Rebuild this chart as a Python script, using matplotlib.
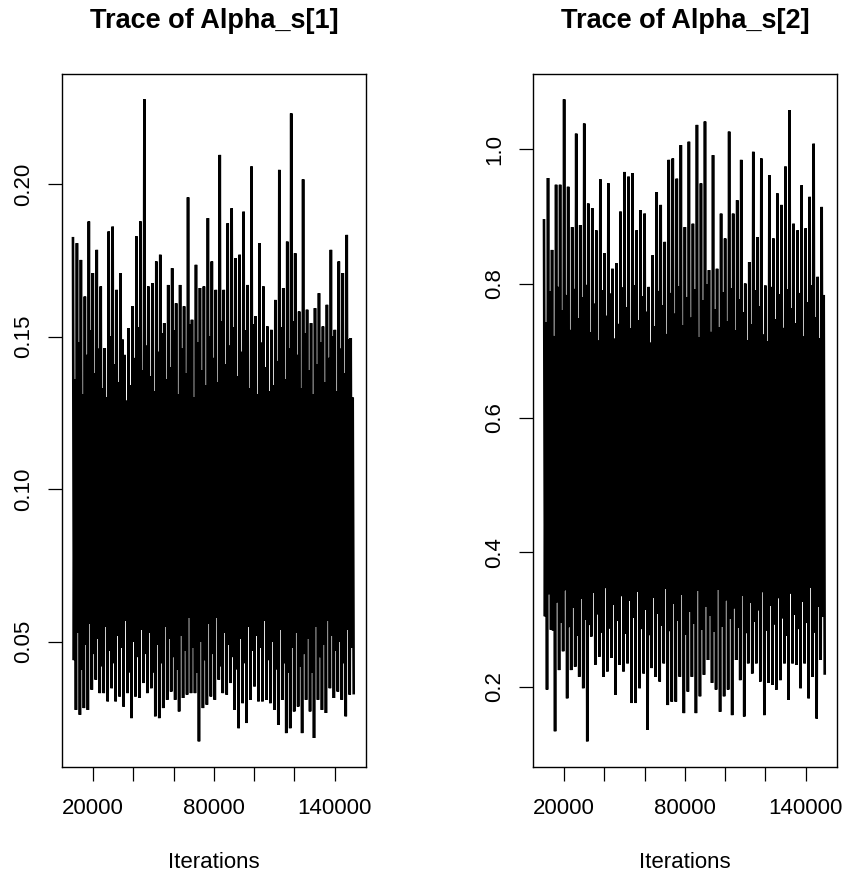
import numpy as np
import matplotlib
matplotlib.use("Agg")
import matplotlib.pyplot as plt

plt.rcParams['font.family'] = ['Liberation Sans', 'DejaVu Sans']

# MCMC run: iterations 10001..150000. Each chain is summarised block by block
# (about 2000 iterations per block): the extreme high and
# low of the trace and the edges of the dense band it fills.
iter_start = 10001
iter_end = 150000

alpha1_hi = [0.1822, 0.1806, 0.1751, 0.1631, 0.1877, 0.1708, 0.1784, 0.1664, 0.1462, 0.1844,
             0.1860, 0.1653, 0.1708, 0.1440, 0.1528, 0.1599, 0.1828, 0.1877, 0.2277, 0.1664,
             0.1675, 0.1746, 0.1768, 0.1544, 0.1669, 0.1724, 0.1609, 0.1669, 0.1599, 0.1956,
             0.1555, 0.1735, 0.1659, 0.1664, 0.1888, 0.1746, 0.1653, 0.2095, 0.1653, 0.1871,
             0.1920, 0.1757, 0.1768, 0.1909, 0.1669, 0.2057, 0.1566, 0.1806, 0.1664, 0.1533,
             0.1522, 0.1620, 0.2046, 0.1659, 0.1811, 0.2231, 0.1773, 0.1582, 0.2015, 0.1588,
             0.1544, 0.1593, 0.1642, 0.1533, 0.1604, 0.1784, 0.1522, 0.1746, 0.1708, 0.1833,
             0.1495]
alpha1_band_hi = [0.136, 0.148, 0.131, 0.144, 0.152, 0.138, 0.146, 0.133, 0.130, 0.150,
                  0.141, 0.135, 0.149, 0.129, 0.134, 0.143, 0.153, 0.139, 0.147, 0.137,
                  0.132, 0.145, 0.151, 0.136, 0.140, 0.152, 0.131, 0.146, 0.138, 0.154,
                  0.130, 0.148, 0.139, 0.134, 0.150, 0.143, 0.135, 0.155, 0.141, 0.147,
                  0.153, 0.137, 0.145, 0.152, 0.133, 0.154, 0.131, 0.148, 0.140, 0.132,
                  0.134, 0.142, 0.153, 0.136, 0.146, 0.155, 0.144, 0.133, 0.151, 0.139,
                  0.131, 0.141, 0.148, 0.135, 0.143, 0.150, 0.132, 0.146, 0.138, 0.149,
                  0.130]
alpha1_band_lo = [0.044, 0.053, 0.041, 0.049, 0.056, 0.046, 0.051, 0.042, 0.055, 0.047,
                  0.043, 0.052, 0.048, 0.057, 0.040, 0.050, 0.045, 0.054, 0.046, 0.053,
                  0.040, 0.049, 0.043, 0.055, 0.051, 0.045, 0.041, 0.052, 0.047, 0.058,
                  0.048, 0.040, 0.050, 0.044, 0.056, 0.046, 0.058, 0.042, 0.053, 0.049,
                  0.045, 0.041, 0.051, 0.043, 0.055, 0.047, 0.052, 0.048, 0.057, 0.044,
                  0.050, 0.041, 0.054, 0.043, 0.040, 0.048, 0.053, 0.042, 0.046, 0.051,
                  0.040, 0.055, 0.045, 0.049, 0.057, 0.052, 0.047, 0.050, 0.043, 0.054,
                  0.048]
alpha1_lo = [0.0277, 0.0261, 0.0283, 0.0277, 0.0343, 0.0376, 0.0332, 0.0332, 0.0305, 0.0348,
             0.0305, 0.0321, 0.0288, 0.0332, 0.0250, 0.0321, 0.0316, 0.0365, 0.0332, 0.0348,
             0.0256, 0.0250, 0.0283, 0.0310, 0.0337, 0.0310, 0.0272, 0.0316, 0.0327, 0.0332,
             0.0332, 0.0174, 0.0283, 0.0294, 0.0321, 0.0310, 0.0376, 0.0332, 0.0327, 0.0365,
             0.0277, 0.0217, 0.0299, 0.0234, 0.0310, 0.0354, 0.0305, 0.0305, 0.0310, 0.0299,
             0.0277, 0.0228, 0.0310, 0.0201, 0.0217, 0.0272, 0.0288, 0.0201, 0.0310, 0.0272,
             0.0185, 0.0310, 0.0277, 0.0267, 0.0348, 0.0316, 0.0337, 0.0310, 0.0256, 0.0327,
             0.0332]

alpha2_hi = [0.894, 0.957, 0.850, 0.947, 0.947, 1.074, 0.944, 0.884, 1.023, 0.887,
             1.038, 0.919, 0.912, 0.879, 0.955, 0.845, 0.949, 0.822, 0.830, 0.907,
             0.966, 0.959, 0.964, 0.879, 0.909, 0.904, 0.795, 0.842, 0.936, 0.917,
             0.862, 0.984, 0.986, 0.956, 1.006, 0.884, 1.011, 0.889, 1.036, 0.949,
             1.041, 0.820, 0.991, 0.822, 0.904, 0.867, 1.026, 0.904, 0.924, 0.984,
             0.800, 0.832, 0.996, 0.869, 0.986, 0.797, 0.961, 0.867, 0.934, 0.917,
             0.974, 1.058, 0.889, 0.879, 0.946, 0.882, 0.929, 1.008, 0.810, 0.914]
alpha2_band_hi = [0.742, 0.788, 0.722, 0.795, 0.760, 0.783, 0.731, 0.792, 0.748, 0.779,
                  0.798, 0.727, 0.770, 0.715, 0.790, 0.752, 0.785, 0.718, 0.740, 0.794,
                  0.765, 0.733, 0.797, 0.745, 0.781, 0.758, 0.712, 0.736, 0.789, 0.768,
                  0.725, 0.786, 0.755, 0.796, 0.738, 0.780, 0.749, 0.791, 0.720, 0.775,
                  0.799, 0.728, 0.762, 0.735, 0.787, 0.744, 0.793, 0.730, 0.777, 0.757,
                  0.716, 0.739, 0.790, 0.766, 0.724, 0.714, 0.795, 0.747, 0.784, 0.734,
                  0.791, 0.763, 0.741, 0.786, 0.721, 0.772, 0.797, 0.750, 0.719, 0.783]
alpha2_band_lo = [0.305, 0.338, 0.284, 0.326, 0.296, 0.344, 0.289, 0.318, 0.276, 0.331,
                  0.300, 0.292, 0.340, 0.308, 0.281, 0.347, 0.287, 0.322, 0.298, 0.335,
                  0.279, 0.328, 0.303, 0.342, 0.286, 0.315, 0.277, 0.333, 0.309, 0.291,
                  0.346, 0.283, 0.324, 0.299, 0.337, 0.278, 0.312, 0.294, 0.343, 0.285,
                  0.320, 0.306, 0.282, 0.345, 0.290, 0.329, 0.301, 0.317, 0.288, 0.336,
                  0.280, 0.325, 0.297, 0.314, 0.341, 0.284, 0.321, 0.293, 0.332, 0.302,
                  0.276, 0.339, 0.307, 0.286, 0.327, 0.295, 0.348, 0.281, 0.319, 0.304]
alpha2_lo = [0.196, 0.285, 0.134, 0.225, 0.253, 0.183, 0.225, 0.230, 0.215, 0.198,
             0.119, 0.275, 0.233, 0.245, 0.215, 0.223, 0.243, 0.188, 0.233, 0.223,
             0.235, 0.176, 0.176, 0.198, 0.220, 0.136, 0.228, 0.215, 0.208, 0.235,
             0.173, 0.178, 0.178, 0.215, 0.161, 0.193, 0.215, 0.161, 0.186, 0.218,
             0.240, 0.206, 0.196, 0.163, 0.186, 0.196, 0.158, 0.240, 0.210, 0.156,
             0.235, 0.220, 0.235, 0.208, 0.158, 0.206, 0.203, 0.196, 0.210, 0.235,
             0.181, 0.235, 0.233, 0.198, 0.235, 0.183, 0.215, 0.153, 0.240, 0.220]

titles = ["Trace of Alpha_s[1]", "Trace of Alpha_s[2]"]
x_ticks = [20000, 40000, 60000, 80000, 100000, 120000, 140000]
x_labels = ["20000", "", "", "80000", "", "", "140000"]
y_ticks = [[0.05, 0.10, 0.15, 0.20], [0.2, 0.4, 0.6, 0.8, 1.0]]
y_labels = [["0.05", "0.10", "0.15", "0.20"], ["0.2", "0.4", "0.6", "0.8", "1.0"]]


def trace_xy(hi, band_lo, band_hi, lo):
    # walk each block: up to its high, down into the band, back up, down to its low
    edges = np.linspace(iter_start, iter_end, len(hi) + 1)
    step = np.diff(edges) / 4
    x = np.column_stack([edges[:-1], edges[:-1] + step,
                         edges[:-1] + 2 * step, edges[:-1] + 3 * step]).ravel()
    y = np.column_stack([hi, band_lo, band_hi, lo]).ravel()
    return x, y


fig = plt.figure(figsize=(8.44, 8.76), dpi=100)
ax1 = fig.add_axes([0.0731, 0.1244, 0.3605, 0.7915])
ax2 = fig.add_axes([0.6312, 0.1244, 0.3605, 0.7915])

chains = [(ax1, alpha1_hi, alpha1_band_lo, alpha1_band_hi, alpha1_lo),
          (ax2, alpha2_hi, alpha2_band_lo, alpha2_band_hi, alpha2_lo)]

span = iter_end - iter_start
for i, (ax, hi, band_lo, band_hi, lo) in enumerate(chains):
    x, y = trace_xy(hi, band_lo, band_hi, lo)
    ax.plot(x, y, color='black', lw=1.9, solid_joinstyle='miter')
    ax.set_xlim(iter_start - 0.04 * span, iter_end + 0.04 * span)
    rng = max(hi) - min(lo)
    ax.set_ylim(min(lo) - 0.04 * rng, max(hi) + 0.04 * rng)

    ax.set_xticks(x_ticks)
    ax.set_xticklabels(x_labels)
    ax.set_yticks(y_ticks[i])
    ax.set_yticklabels(y_labels[i], rotation=90, va='center')
    ax.tick_params(axis='both', direction='out', length=10, width=0.9, labelsize=16, color='black')
    ax.tick_params(axis='x', pad=12)
    ax.tick_params(axis='y', pad=10)
    for s in ax.spines.values():
        s.set_linewidth(1.0)
    ax.set_xlabel("Iterations", fontsize=16, labelpad=24)
    ax.set_title(titles[i], fontsize=19.5, fontweight='bold', pad=33)

fig.savefig("out.png", dpi=100)
